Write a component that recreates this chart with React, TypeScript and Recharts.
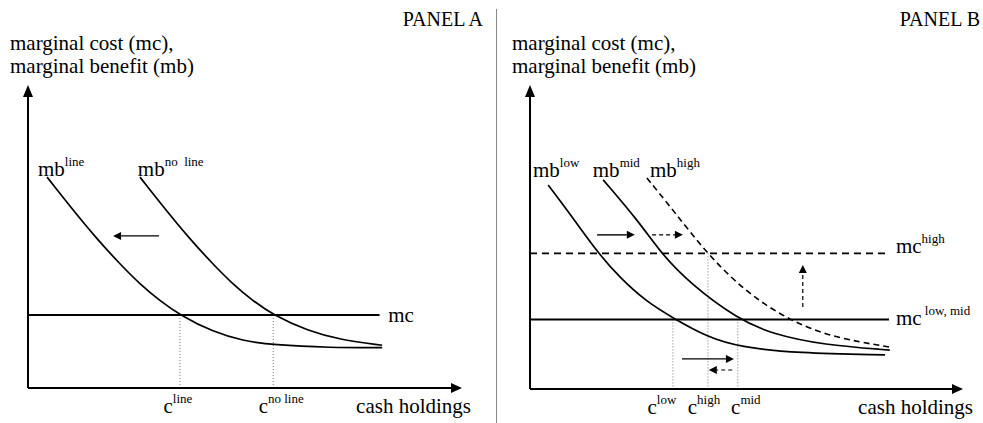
import { ComposedChart, Line, XAxis, YAxis, ReferenceLine, ReferenceDot } from 'recharts';

const SERIF = '"Liberation Serif", "Times New Roman", serif';
const INK = '#000';

// panel A: credit line vs no credit line
const mbLineA = [
  { x: 4.4, y: 69.6 }, { x: 10.4, y: 58.7 }, { x: 15.9, y: 49.2 }, { x: 21.2, y: 40.9 },
  { x: 25.8, y: 34.3 }, { x: 30.4, y: 28.8 }, { x: 35.0, y: 24.1 }, { x: 42.6, y: 18.5 },
  { x: 49.5, y: 15.6 }, { x: 56.5, y: 14.2 }, { x: 69.6, y: 13.3 }, { x: 81.6, y: 13.3 },
];
const mbNoLineA = [
  { x: 25.8, y: 69.6 }, { x: 31.8, y: 58.7 }, { x: 37.3, y: 49.2 }, { x: 42.6, y: 40.9 },
  { x: 47.2, y: 34.3 }, { x: 51.8, y: 28.8 }, { x: 56.5, y: 24.1 }, { x: 64.5, y: 18.8 },
  { x: 72.0, y: 15.9 }, { x: 81.6, y: 14.1 },
];
const mcA = [{ x: 0, y: 24.1 }, { x: 81, y: 24.1 }];
const cTicksA = [35.0, 56.5];
const cSupsA = ['line', 'no line'];
const solidArrowsA = [{ x1: 30.2, y1: 50.2, x2: 19.6, y2: 50.2 }];
const dashedArrowsA: typeof solidArrowsA = [];
const labelsA = [
  { main: 'mb', sup: 'line', x: 2.3, y: 70 },
  { main: 'mb', sup: 'no  line', x: 25.3, y: 70 },
  { main: 'mc', sup: '', x: 83, y: 21.8 },
];

// panel B: low / mid / high
const mbLowB = [
  { x: 4.2, y: 67.1 }, { x: 9.9, y: 56.3 }, { x: 15.5, y: 45.1 }, { x: 20.8, y: 36.5 },
  { x: 27.0, y: 28.6 }, { x: 33.0, y: 23.4 }, { x: 40.9, y: 17.1 }, { x: 48.5, y: 13.8 },
  { x: 61.7, y: 11.8 }, { x: 82.0, y: 11.2 },
];
const mbMidB = [
  { x: 16.9, y: 68.8 }, { x: 25.4, y: 54.6 }, { x: 30.0, y: 45.1 }, { x: 37.0, y: 34.6 },
  { x: 48.0, y: 23.0 }, { x: 56.1, y: 18.0 }, { x: 67.7, y: 14.5 }, { x: 83.1, y: 12.8 },
];
const mbHighB = [
  { x: 27.0, y: 69.4 }, { x: 33.0, y: 58.9 }, { x: 41.1, y: 44.1 }, { x: 50.1, y: 31.6 },
  { x: 59.4, y: 23.0 }, { x: 69.3, y: 17.1 }, { x: 83.1, y: 13.8 },
];
const mcLowMidB = [{ x: 0, y: 22.9 }, { x: 82.9, y: 22.9 }];
const mcHighB = [{ x: 0, y: 44.6 }, { x: 82.9, y: 44.6 }];
const cTicksB = [33.0, 41.1, 48.0];
const cSupsB = ['low', 'high', 'mid'];
const cTopsB = [22.9, 44.6, 22.9];
const solidArrowsB = [
  { x1: 15.5, y1: 50.7, x2: 24.2, y2: 50.7 },
  { x1: 35.1, y1: 9.9, x2: 47.1, y2: 9.9 },
];
const dashedArrowsB = [
  { x1: 28.2, y1: 50.7, x2: 35.3, y2: 50.7 },
  { x1: 63.0, y1: 27.0, x2: 63.0, y2: 40.8 },
  { x1: 46.7, y1: 6.25, x2: 41.3, y2: 6.25 },
];
const labelsB = [
  { main: 'mb', sup: 'low', x: 0.7, y: 69.7 },
  { main: 'mb', sup: 'mid', x: 14.5, y: 69.7 },
  { main: 'mb', sup: 'high', x: 27.7, y: 69.7 },
  { main: 'mc', sup: 'high', x: 84.5, y: 44.7 },
  { main: 'mc', sup: ' low, mid', x: 84.5, y: 21 },
];

const arrowShape = (head: number, half: number, width: number, dash?: string) => (p: any) => {
  const { x1, y1, x2, y2 } = p;
  const a = Math.atan2(y2 - y1, x2 - x1);
  const bx = x2 - head * Math.cos(a);
  const by = y2 - head * Math.sin(a);
  const nx = -Math.sin(a) * half;
  const ny = Math.cos(a) * half;
  return (
    <g>
      <line x1={x1} y1={y1} x2={bx} y2={by} stroke={INK} strokeWidth={width} strokeDasharray={dash} />
      <polygon points={`${x2},${y2} ${bx + nx},${by + ny} ${bx - nx},${by - ny}`} fill={INK} />
    </g>
  );
};

const note = (lines: string[], dx: number, dy: number, anchor: 'start' | 'end', size = 21) => (p: any) => (
  <text x={p.cx + dx} y={p.cy + dy} textAnchor={anchor} fontFamily={SERIF} fontSize={size} fill={INK}>
    {lines.map((l, i) => (
      <tspan key={i} x={p.cx + dx} dy={i === 0 ? 0 : 23}>{l}</tspan>
    ))}
  </text>
);

const supLabel = (main: string, sup: string) => (p: any) => (
  <text x={p.cx} y={p.cy} fontFamily={SERIF} fontSize={21} fill={INK} style={{ whiteSpace: 'pre' }}>
    <tspan>{main}</tspan>
    {sup && <tspan dy={-10} fontSize={13}>{sup}</tspan>}
  </text>
);

const CTick = ({ x, y, payload, ticks, sups, shifts }: any) => {
  const i = ticks.indexOf(payload.value);
  return (
    <text x={x + shifts[i]} y={y + 25} textAnchor="middle" fontFamily={SERIF} fontSize={21} fill={INK} style={{ whiteSpace: 'pre' }}>
      <tspan>c</tspan>
      <tspan dy={-10} fontSize={13}>{sups[i]}</tspan>
    </text>
  );
};

interface PanelProps {
  title: string;
  width: number;
  margin: { top: number; right: number; bottom: number; left: number };
  solid: { x: number; y: number }[][];
  dashed: { x: number; y: number }[][];
  mcSolid: { x: number; y: number }[][];
  mcDashed: { x: number; y: number }[][];
  ticks: number[];
  sups: string[];
  shifts: number[];
  tops: number[];
  solidArrows: { x1: number; y1: number; x2: number; y2: number }[];
  dashedArrows: { x1: number; y1: number; x2: number; y2: number }[];
  labels: { main: string; sup: string; x: number; y: number }[];
  titleDx: number;
  cashDx: number;
}

function Panel(p: PanelProps) {
  return (
    <ComposedChart width={p.width} height={423} margin={p.margin}>
      <XAxis
        type="number" dataKey="x" domain={[0, 100]} ticks={p.ticks} interval={0}
        axisLine={false} tickLine={false} tickSize={0} tickMargin={0} height={30}
        tick={<CTick ticks={p.ticks} sups={p.sups} shifts={p.shifts} />}
      />
      <YAxis type="number" dataKey="y" domain={[0, 100]} hide />

      {p.ticks.map((t, i) => (
        <ReferenceLine key={`v${i}`} segment={[{ x: t, y: p.tops[i] }, { x: t, y: 0 }]}
          stroke="#777" strokeWidth={1} strokeDasharray="1 2" ifOverflow="visible" />
      ))}

      {p.mcSolid.map((d, i) => (
        <Line key={`ms${i}`} data={d} dataKey="y" type="linear" dot={false} stroke={INK}
          strokeWidth={2} isAnimationActive={false} />
      ))}
      {p.mcDashed.map((d, i) => (
        <Line key={`md${i}`} data={d} dataKey="y" type="linear" dot={false} stroke={INK}
          strokeWidth={1.8} strokeDasharray="7 5" isAnimationActive={false} />
      ))}
      {p.solid.map((d, i) => (
        <Line key={`s${i}`} data={d} dataKey="y" type="basis" dot={false} stroke={INK}
          strokeWidth={1.7} isAnimationActive={false} />
      ))}
      {p.dashed.map((d, i) => (
        <Line key={`d${i}`} data={d} dataKey="y" type="basis" dot={false} stroke={INK}
          strokeWidth={1.6} strokeDasharray="6 4" isAnimationActive={false} />
      ))}

      {/* axes with arrowheads */}
      <ReferenceLine segment={[{ x: 0, y: 0 }, { x: 0, y: 100 }]} ifOverflow="visible" shape={arrowShape(12, 5, 2)} />
      <ReferenceLine segment={[{ x: 0, y: 0 }, { x: 100, y: 0 }]} ifOverflow="visible" shape={arrowShape(11, 5, 2)} />

      {p.solidArrows.map((a, i) => (
        <ReferenceLine key={`sa${i}`} segment={[{ x: a.x1, y: a.y1 }, { x: a.x2, y: a.y2 }]}
          ifOverflow="visible" shape={arrowShape(8, 4, 1.4)} />
      ))}
      {p.dashedArrows.map((a, i) => (
        <ReferenceLine key={`da${i}`} segment={[{ x: a.x1, y: a.y1 }, { x: a.x2, y: a.y2 }]}
          ifOverflow="visible" shape={arrowShape(8, 4, 1.2, '4 3')} />
      ))}

      {p.labels.map((l, i) => (
        <ReferenceDot key={`l${i}`} x={l.x} y={l.y} r={0} ifOverflow="visible" shape={supLabel(l.main, l.sup)} />
      ))}

      <ReferenceDot x={0} y={100} r={0} ifOverflow="visible"
        shape={note(['marginal cost (mc),', 'marginal benefit (mb)'], -18, -35, 'start')} />
      <ReferenceDot x={100} y={0} r={0} ifOverflow="visible"
        shape={note(['cash holdings'], p.cashDx, 25, 'end')} />
      <ReferenceDot x={100} y={100} r={0} ifOverflow="visible"
        shape={note([p.title], p.titleDx, -59, 'end', 20)} />
    </ComposedChart>
  );
}

export default function App() {
  return (
    <div style={{ position: 'absolute', left: 0, top: 0, width: 983, height: 423, background: '#fff' }}>
      <div style={{ position: 'absolute', left: 0, top: 0 }}>
        <Panel
          title="PANEL A" width={490}
          margin={{ top: 85, right: 28, bottom: 5, left: 28 }}
          solid={[mbLineA, mbNoLineA]} dashed={[]}
          mcSolid={[mcA]} mcDashed={[]}
          ticks={cTicksA} sups={cSupsA} shifts={[-2, 8]} tops={[24.1, 24.1]}
          solidArrows={solidArrowsA} dashedArrows={dashedArrowsA}
          labels={labelsA} titleDx={21} cashDx={9}
        />
      </div>
      <div style={{ position: 'absolute', left: 496, top: 9, width: 1, height: 414, background: '#888' }} />
      <div style={{ position: 'absolute', left: 490, top: 0 }}>
        <Panel
          title="PANEL B" width={493}
          margin={{ top: 85, right: 20, bottom: 4, left: 40 }}
          solid={[mbLowB, mbMidB]} dashed={[mbHighB]}
          mcSolid={[mcLowMidB]} mcDashed={[mcHighB]}
          ticks={cTicksB} sups={cSupsB} shifts={[-11, -4, 8]} tops={cTopsB}
          solidArrows={solidArrowsB} dashedArrows={dashedArrowsB}
          labels={labelsB} titleDx={17} cashDx={10}
        />
      </div>
    </div>
  );
}
